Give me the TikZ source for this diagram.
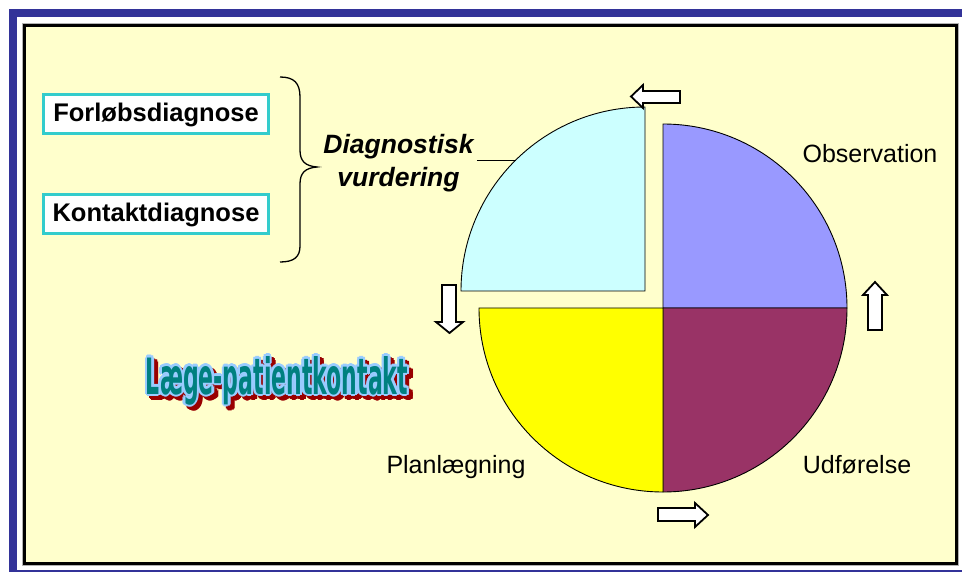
\documentclass[tikz,border=0pt]{standalone}
\usepackage{fontspec}
\usepackage{graphicx}
\usetikzlibrary{calc}
\setmainfont{Liberation Sans}
\newfontfamily\wafont{DejaVu Sans Condensed Bold}
\definecolor{paper}{HTML}{FFFFCC}
\definecolor{frameblue}{HTML}{333399}
\definecolor{boxcyan}{HTML}{33CCCC}
\definecolor{slicecyan}{HTML}{CCFFFF}
\definecolor{slicepurple}{HTML}{9999FF}
\definecolor{slicewine}{HTML}{993366}
\definecolor{sliceyellow}{HTML}{FFFF00}
\definecolor{waface}{HTML}{008080}
\definecolor{waline}{HTML}{99CCFF}
\definecolor{washadow}{HTML}{990000}
\newcommand\wordart{\resizebox{262pt}{38pt}{\wafont Læge-patientkontakt}}
\tikzset{
  label/.style={font=\fontsize{25}{29}\selectfont, inner sep=0pt},
  termbox/.style={draw=boxcyan, line width=3pt, fill=white,
    minimum width=225pt, minimum height=39pt, inner sep=0pt,
    font=\fontsize{25.5}{29}\selectfont\bfseries},
  slice/.style={draw=black, line width=0.9pt},
  blockarrow/.style={draw=black, fill=white, line width=1.8pt, line join=miter},
  wa/.style={inner sep=0pt, anchor=base},
}
\begin{document}
\begin{tikzpicture}[x=1pt, y=-1pt]
\useasboundingbox (0,0) rectangle (962,572);
\fill[white] (0,0) rectangle (962,572);
% blue slide frame
\fill[frameblue] (9,9) rectangle (962,17);
\fill[frameblue] (9,9) rectangle (17,572);
\fill[frameblue] (17,570) rectangle (962,572);
% pale yellow panel with black border
\draw[black!30, line width=1pt] (22.5,23.5) rectangle (958.5,565.5);
\draw[line width=3pt, fill=paper] (24.5,25.5) rectangle (956.5,563.5);

% pie chart, top-left slice pulled out
\coordinate (pc) at (663,308);
\coordinate (cc) at (645,291);
\draw[slice, fill=slicepurple] (pc) -- ++(0:184) arc[start angle=0, end angle=-90, radius=184] -- cycle;
\draw[slice, fill=slicewine] (pc) -- ++(0:184) arc[start angle=0, end angle=90, radius=184] -- cycle;
\draw[slice, fill=sliceyellow] (pc) -- ++(90:184) arc[start angle=90, end angle=180, radius=184] -- cycle;
\draw[slice, fill=slicecyan] (cc) -- ++(180:184) arc[start angle=180, end angle=270, radius=184] -- cycle;

% cycle arrows
\draw[blockarrow] (631,96.5) -- (643,85) -- (643,91) -- (680,91) -- (680,103) -- (643,103) -- (643,108) -- cycle;
\draw[blockarrow] (449.5,333) -- (436,322) -- (442,322) -- (442,285) -- (456,285) -- (456,322) -- (463,322) -- cycle;
\draw[blockarrow] (875,282) -- (863,295) -- (868,295) -- (868,330) -- (882,330) -- (882,295) -- (887,295) -- cycle;
\draw[blockarrow] (708,515) -- (695,503) -- (695,508) -- (658,508) -- (658,521) -- (695,521) -- (695,527) -- cycle;

% phase labels
\node[label, anchor=base] (obs) at (870,163) {Observation};
\node[label, anchor=base] (udf) at (857,473) {Udførelse};
\node[label, anchor=base] (plan) at (456,473) {Planlægning};

% diagnosis boxes and brace
\node[termbox] (forl) at (156,114.5) {Forløbsdiagnose};
\node[termbox] (kont) at (156,214.5) {Kontaktdiagnose};
\draw[line width=1.3pt] (280,77) .. controls (294,77) and (300,83) .. (300,97)
  -- (300,150) .. controls (300,161) and (305,166) .. (317,167)
  .. controls (305,168) and (300,173) .. (300,184)
  -- (300,246) .. controls (300,257) and (294,262) .. (280,262);
\node[label, font=\fontsize{26.5}{33}\selectfont\bfseries\itshape, align=center, inner sep=3pt]
  (diag) at (398.5,163) {Diagnostisk\\vurdering};
\coordinate (edge) at (516,160);
\draw[line width=0.8pt] (diag.east |- edge) -- (edge);

% word art title: shadow, outline, face
\foreach \a [count=\i] in {0,30,...,330}
  \node[wa, text=washadow] (was-\i) at ($(281,398)+(\a:2.2)$) {\wordart};
\foreach \a [count=\i] in {0,30,...,330}
  \node[wa, text=waline] (wao-\i) at ($(277,394)+(\a:2.2)$) {\wordart};
\node[wa, text=waface] (wa) at (277,394) {\wordart};
\end{tikzpicture}
\end{document}
